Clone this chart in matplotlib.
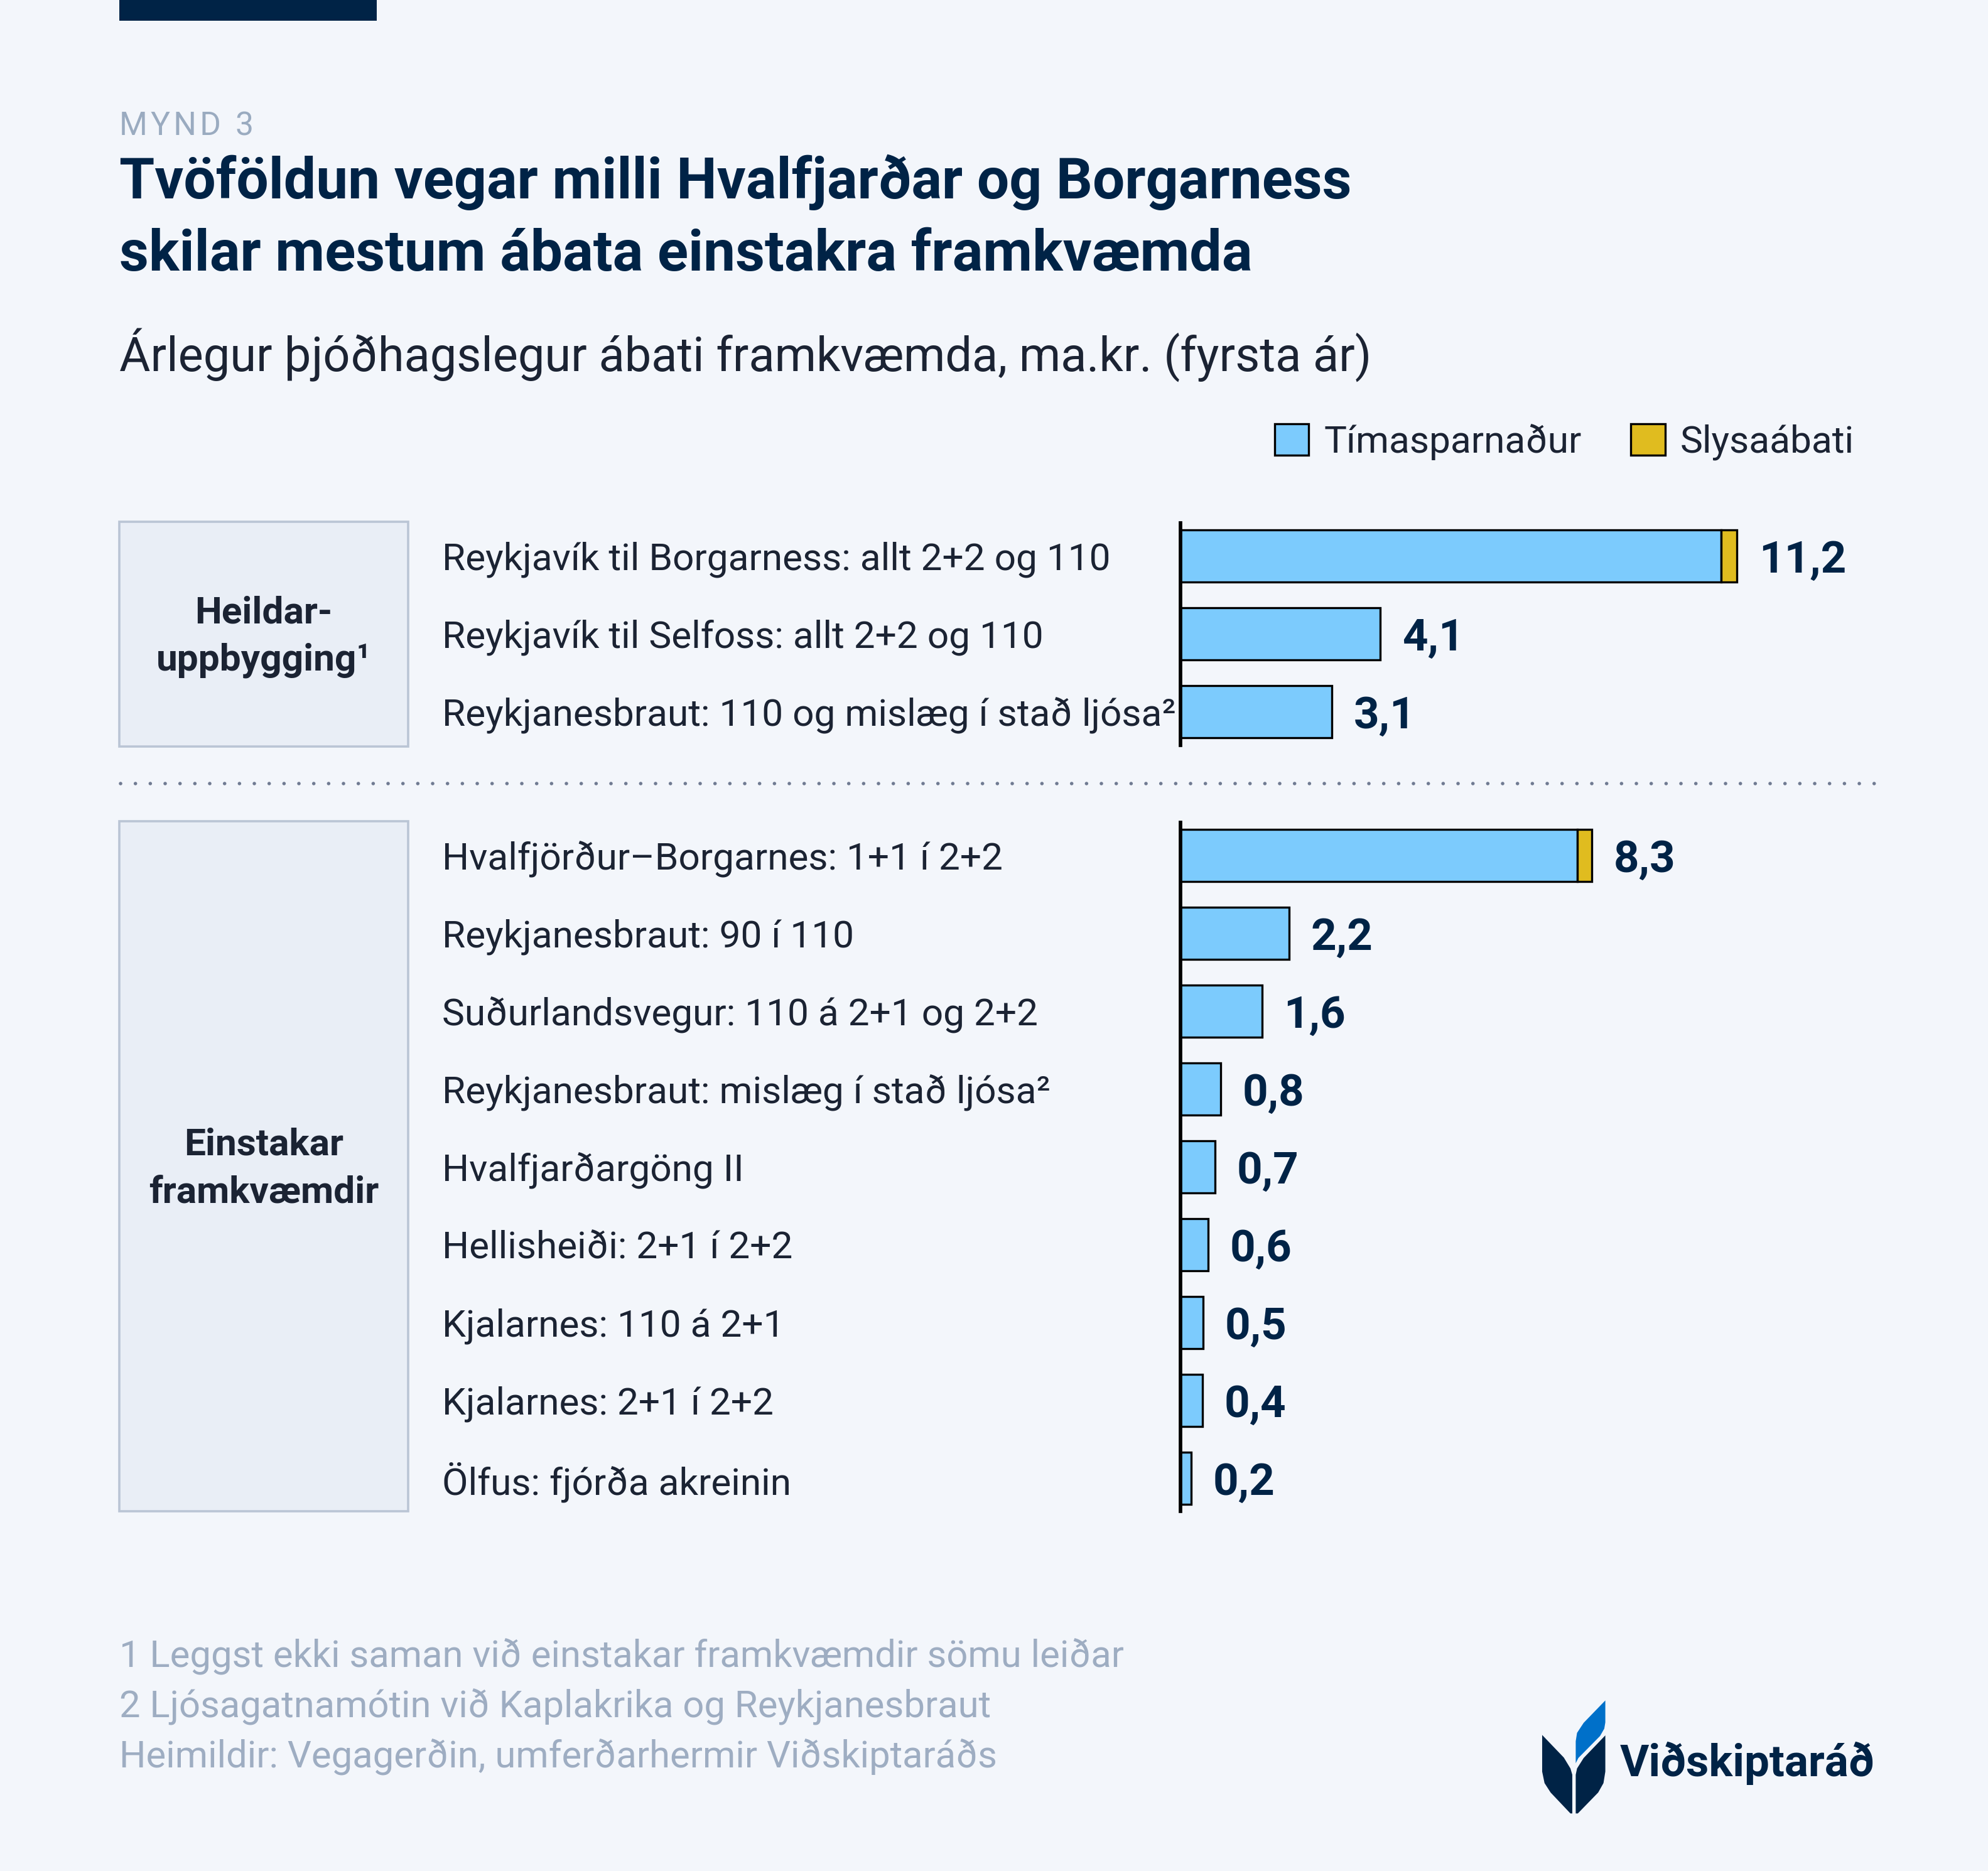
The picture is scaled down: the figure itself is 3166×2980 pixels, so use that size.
import matplotlib
matplotlib.use("Agg")
import matplotlib.pyplot as plt
from matplotlib.patches import Rectangle, Polygon
from matplotlib.lines import Line2D
from matplotlib import transforms

# ---------------- data ----------------
group1_names = ["Reykjavík til Borgarness: allt 2+2 og 110",
                "Reykjavík til Selfoss: allt 2+2 og 110",
                "Reykjanesbraut: 110 og mislæg í stað ljósa²"]
group1_time = [10.88, 4.02, 3.05]
group1_acc = [0.32, 0.0, 0.0]
group1_labels = ["11,2", "4,1", "3,1"]

group2_names = ["Hvalfjörður–Borgarnes: 1+1 í 2+2",
                "Reykjanesbraut: 90 í 110",
                "Suðurlandsvegur: 110 á 2+1 og 2+2",
                "Reykjanesbraut: mislæg í stað ljósa²",
                "Hvalfjarðargöng II",
                "Hellisheiði: 2+1 í 2+2",
                "Kjalarnes: 110 á 2+1",
                "Kjalarnes: 2+1 í 2+2",
                "Ölfus: fjórða akreinin"]
group2_time = [7.99, 2.19, 1.64, 0.81, 0.70, 0.55, 0.45, 0.44, 0.21]
group2_acc = [0.29, 0, 0, 0, 0, 0, 0, 0, 0]
group2_labels = ["8,3", "2,2", "1,6", "0,8", "0,7", "0,6", "0,5", "0,4", "0,2"]

group_titles = [["Heildar-", "uppbygging¹"], ["Einstakar", "framkvæmdir"]]
series_names = ["Tímasparnaður", "Slysaábati"]

footnotes = ["1 Leggst ekki saman við einstakar framkvæmdir sömu leiðar",
             "2 Ljósagatnamótin við Kaplakrika og Reykjanesbraut",
             "Heimildir: Vegagerðin, umferðarhermir Viðskiptaráðs"]

# ---------------- style ----------------
BG = "#f3f6fb"
NAVY = "#002346"
BLUE = "#7ccbfd"
YELLOW = "#e0bc1f"
TXT = "#1b2333"
GRAY = "#9eadc2"
BOXFILL = "#e9eef6"
BOXEDGE = "#bac5d5"
DOTS = "#707b92"
FONT = ["Roboto", "DejaVu Sans"]
plt.rcParams["font.family"] = FONT

W, H = 3166, 2980
fig = plt.figure(figsize=(W / 100, H / 100), dpi=100, facecolor=BG)


def fx(x):
    return x / W


def fy(y):
    return 1 - y / H


# top bar
fig.add_artist(Rectangle((fx(190), fy(33)), (600 - 190) / W, 33 / H,
                         transform=fig.transFigure, color=NAVY, lw=0))

HS = "\u200a"
fig.text(fx(190), fy(215), HS.join("MYND") + HS + " " + HS + "3", fontsize=37,
         color="#9aabc0", va="baseline")
fig.text(fx(190), fy(316), "Tvöföldun vegar milli Hvalfjarðar og Borgarness",
         fontsize=65.5, fontweight="bold", color=NAVY, va="baseline")
fig.text(fx(190), fy(431), "skilar mestum ábata einstakra framkvæmda",
         fontsize=65.5, fontweight="bold", color=NAVY, va="baseline")
fig.text(fx(190), fy(591), "Árlegur þjóðhagslegur ábati framkvæmda, ma.kr. (fyrsta ár)",
         fontsize=54.5, color=TXT, va="baseline")

PXU = 79.1
XMAX = 13.5
PITCH = 124.0
LABEL_X = 704
LABEL_FS = 43.5


def make_group(top, bottom, names, time, acc, labels):
    ax = fig.add_axes([fx(1880), fy(bottom), XMAX * PXU / W, (bottom - top) / H])
    ax.set_facecolor("none")
    n = len(names)
    ypos = list(range(n))
    b1 = ax.barh(ypos, time, height=0.67, color=BLUE, edgecolor="black", lw=2.4, zorder=1)
    b2 = ax.barh(ypos, acc, left=time, height=0.67, color=YELLOW, edgecolor="black", lw=2.4, zorder=1)
    for i, p in enumerate(b2.patches):
        if acc[i] <= 0:
            p.set_visible(False)
    ax.set_xlim(0, XMAX)
    span = (bottom - top) / PITCH
    ax.set_ylim(-0.42 + span, -0.42)
    for s in ["top", "right", "bottom"]:
        ax.spines[s].set_visible(False)
    ax.spines["left"].set_linewidth(4.1)
    ax.spines["left"].set_color("black")
    ax.set_xticks([])
    ax.set_yticks([])
    trans = transforms.blended_transform_factory(fig.transFigure, ax.transData)
    for i in range(n):
        ax.text(fx(LABEL_X), ypos[i], names[i], transform=trans, fontsize=LABEL_FS,
                color=TXT, va="center_baseline", ha="left")
        ax.annotate(labels[i], xy=(time[i] + acc[i], ypos[i]), xytext=(25, 0),
                    textcoords="offset points", fontsize=51, fontweight="bold",
                    color=NAVY, va="center_baseline", ha="left", annotation_clip=False)
    return ax, b1, b2


ax1, h1, h2 = make_group(833, 1187, group1_names, group1_time, group1_acc, group1_labels)
ax2, _, _ = make_group(1310, 2407, group2_names, group2_time, group2_acc, group2_labels)

# group boxes
for (top, bot), lines in zip([(831, 1189), (1308, 2407)], group_titles):
    fig.add_artist(Rectangle((fx(190), fy(bot)), (650 - 190) / W, (bot - top) / H,
                             transform=fig.transFigure, facecolor=BOXFILL,
                             edgecolor=BOXEDGE, lw=2.6, zorder=0))
    c = (top + bot) / 2
    fig.text(fx(420), fy(c - 17.5), lines[0], fontsize=43.5, fontweight="bold",
             color=TXT, ha="center", va="baseline")
    fig.text(fx(420), fy(c + 57.5), lines[1], fontsize=43.5, fontweight="bold",
             color=TXT, ha="center", va="baseline")

# dotted separator
sep = Line2D([fx(192), fx(2986)], [fy(1248), fy(1248)], transform=fig.transFigure,
             color=DOTS, lw=4.0, linestyle=(0, (0.01, 4.25)), dash_capstyle="round")
fig.add_artist(sep)

# legend
fig.legend([h1, h2], series_names, loc="center right",
           bbox_to_anchor=(fx(2953), fy(704)), bbox_transform=fig.transFigure,
           ncol=2, frameon=False, fontsize=LABEL_FS, labelcolor=TXT,
           handlelength=0.9, handleheight=0.9, handletextpad=0.4,
           columnspacing=1.3, borderpad=0, borderaxespad=0)

# footnotes
for i, t in enumerate(footnotes):
    fig.text(fx(190), fy(2656 + 80 * i), t, fontsize=43, color=GRAY, va="baseline")

# logo
def lx(zx):
    return fx(2400 + zx / 2.376)


def ly(zy):
    return fy(2640 + zy / 3)


left_leaf = [(133, 370), (215, 478), (240, 530), (247, 560), (247, 745), (240, 745),
             (165, 645), (142, 600), (133, 545)]
right_leaf = [(372, 372), (290, 480), (265, 530), (260, 560), (260, 745), (268, 745),
              (345, 645), (365, 600), (372, 545)]
blue_leaf = [(372, 205), (290, 312), (265, 360), (260, 400), (260, 505), (270, 480),
             (352, 375), (368, 340), (372, 310)]
for pts, col in [(left_leaf, NAVY), (right_leaf, NAVY), (blue_leaf, "#0070c9")]:
    fig.add_artist(Polygon([(lx(a), ly(b)) for a, b in pts], closed=True,
                           transform=fig.transFigure, facecolor=col, lw=0))
fig.text(fx(2580), fy(2829), "Viðskiptaráð", fontsize=51, fontweight="bold",
         color=NAVY, va="baseline")

fig.savefig("out.png", dpi=100, facecolor=BG)
